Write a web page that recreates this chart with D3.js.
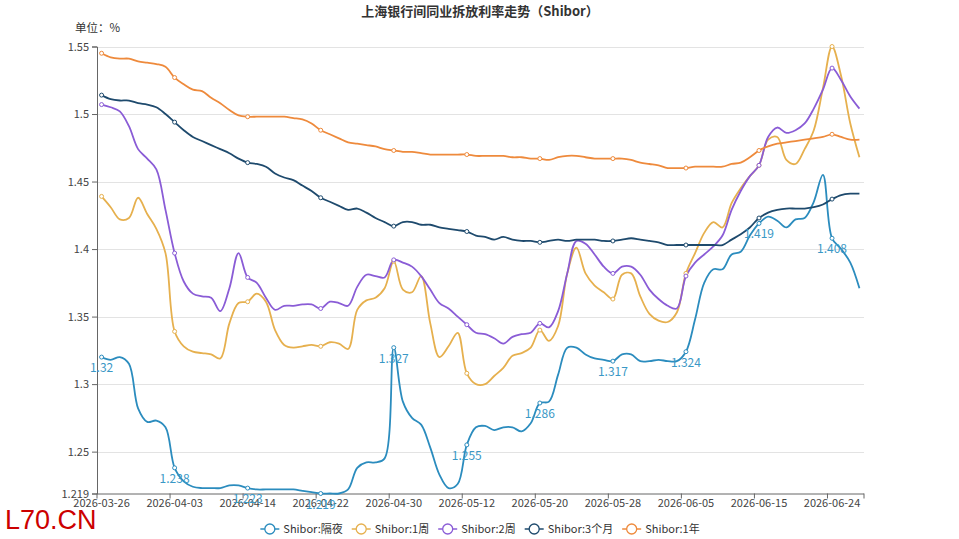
<!DOCTYPE html>
<html>
<head>
<meta charset="utf-8">
<script src="https://cdn.jsdelivr.net/npm/d3@7/dist/d3.min.js"></script>
<style>
  html, body { margin: 0; padding: 0; background: #fff; }
  svg { display: block; }
  text { font-family: "Microsoft YaHei", "Noto Sans CJK SC", "Noto Sans", sans-serif; }
</style>
</head>
<body>
<svg id="chart" width="959" height="539"></svg>
<script>
// ---------- data ----------
const dates = [
  "2026-03-26","2026-03-27","2026-03-28","2026-03-29","2026-03-30","2026-03-31","2026-04-01","2026-04-02",
  "2026-04-03","2026-04-06","2026-04-07","2026-04-08","2026-04-09","2026-04-10","2026-04-11","2026-04-13",
  "2026-04-14","2026-04-15","2026-04-16","2026-04-17","2026-04-18","2026-04-19","2026-04-20","2026-04-21",
  "2026-04-22","2026-04-23","2026-04-24","2026-04-25","2026-04-26","2026-04-27","2026-04-28","2026-04-29",
  "2026-04-30","2026-05-04","2026-05-05","2026-05-06","2026-05-07","2026-05-08","2026-05-09","2026-05-11",
  "2026-05-12","2026-05-13","2026-05-14","2026-05-15","2026-05-16","2026-05-17","2026-05-18","2026-05-19",
  "2026-05-20","2026-05-21","2026-05-22","2026-05-23","2026-05-24","2026-05-25","2026-05-26","2026-05-27",
  "2026-05-28","2026-05-29","2026-05-30","2026-05-31","2026-06-01","2026-06-02","2026-06-03","2026-06-04",
  "2026-06-05","2026-06-06","2026-06-08","2026-06-09","2026-06-10","2026-06-11","2026-06-12","2026-06-13",
  "2026-06-15","2026-06-16","2026-06-17","2026-06-18","2026-06-19","2026-06-20","2026-06-22","2026-06-23",
  "2026-06-24","2026-06-25","2026-06-26","2026-06-27"
];

const seriesNames = ["Shibor:隔夜", "Shibor:1周", "Shibor:2周", "Shibor:3个月", "Shibor:1年"];

const overnight = [
  1.320,1.318,1.320,1.315,1.282,1.272,1.273,1.268,
  1.238,1.228,1.224,1.223,1.223,1.223,1.225,1.225,
  1.223,1.222,1.222,1.222,1.222,1.222,1.221,1.220,
  1.219,1.219,1.219,1.222,1.238,1.242,1.242,1.245,
  1.327,1.287,1.275,1.270,1.253,1.233,1.223,1.226,
  1.255,1.268,1.269,1.266,1.268,1.268,1.265,1.271,
  1.286,1.287,1.307,1.327,1.327,1.322,1.319,1.318,
  1.317,1.322,1.322,1.317,1.317,1.318,1.317,1.317,
  1.324,1.348,1.375,1.385,1.385,1.396,1.398,1.410,
  1.419,1.424,1.421,1.416,1.422,1.423,1.435,1.455,
  1.408,1.400,1.390,1.371
];
const week1 = [
  1.439,1.431,1.422,1.423,1.438,1.426,1.415,1.397,
  1.339,1.328,1.324,1.323,1.322,1.319,1.345,1.360,
  1.361,1.367,1.361,1.340,1.329,1.327,1.328,1.329,
  1.328,1.331,1.330,1.326,1.355,1.362,1.364,1.371,
  1.391,1.370,1.368,1.380,1.345,1.320,1.328,1.338,
  1.308,1.300,1.300,1.306,1.312,1.321,1.323,1.327,
  1.340,1.332,1.343,1.382,1.401,1.382,1.373,1.368,
  1.363,1.381,1.382,1.365,1.352,1.347,1.346,1.353,
  1.382,1.397,1.412,1.420,1.416,1.434,1.445,1.454,
  1.462,1.481,1.483,1.466,1.463,1.474,1.488,1.519,
  1.550,1.528,1.493,1.468
];
const week2 = [
  1.507,1.505,1.502,1.491,1.474,1.467,1.459,1.429,
  1.397,1.376,1.367,1.365,1.364,1.354,1.371,1.397,
  1.379,1.375,1.364,1.355,1.358,1.358,1.359,1.359,
  1.356,1.361,1.360,1.358,1.372,1.381,1.380,1.379,
  1.392,1.390,1.387,1.380,1.370,1.360,1.356,1.350,
  1.344,1.338,1.337,1.334,1.330,1.335,1.337,1.338,
  1.345,1.342,1.354,1.382,1.406,1.404,1.396,1.387,
  1.382,1.387,1.387,1.381,1.370,1.363,1.358,1.356,
  1.380,1.390,1.396,1.402,1.410,1.429,1.443,1.454,
  1.462,1.483,1.490,1.486,1.488,1.493,1.504,1.518,
  1.534,1.525,1.513,1.504
];
const month3 = [
  1.514,1.511,1.510,1.510,1.508,1.507,1.505,1.500,
  1.494,1.488,1.483,1.480,1.477,1.474,1.471,1.467,
  1.464,1.463,1.461,1.456,1.453,1.451,1.447,1.443,
  1.438,1.435,1.432,1.429,1.430,1.427,1.423,1.420,
  1.417,1.420,1.420,1.418,1.418,1.416,1.415,1.414,
  1.413,1.410,1.409,1.407,1.409,1.407,1.406,1.406,
  1.405,1.406,1.407,1.406,1.407,1.407,1.407,1.406,
  1.406,1.407,1.408,1.407,1.406,1.405,1.403,1.403,
  1.403,1.403,1.403,1.403,1.403,1.407,1.411,1.416,
  1.423,1.427,1.429,1.430,1.430,1.430,1.431,1.433,
  1.437,1.440,1.441,1.441
];
const year1 = [
  1.545,1.542,1.541,1.541,1.539,1.538,1.537,1.535,
  1.527,1.522,1.518,1.517,1.512,1.508,1.503,1.499,
  1.498,1.498,1.498,1.498,1.498,1.497,1.496,1.493,
  1.488,1.485,1.482,1.479,1.478,1.477,1.476,1.474,
  1.473,1.472,1.472,1.471,1.470,1.470,1.470,1.470,
  1.470,1.469,1.469,1.469,1.469,1.468,1.468,1.467,
  1.467,1.466,1.468,1.469,1.469,1.468,1.467,1.467,
  1.467,1.467,1.466,1.464,1.463,1.462,1.460,1.460,
  1.460,1.461,1.461,1.461,1.461,1.463,1.464,1.468,
  1.473,1.476,1.478,1.479,1.480,1.481,1.482,1.483,
  1.485,1.483,1.481,1.481
];

const yTicks = [1.219, 1.25, 1.3, 1.35, 1.4, 1.45, 1.5, 1.55];
const colors = ["#2b8cbe", "#e6b04e", "#8a5cd6", "#1e4a6d", "#ee8a3c"];

(function () {
// ---------- layout ----------
const svg = d3.select("#chart");
const pLeft = 97, pRight = 864, pTop = 46.5, pBottom = 493.5;
const idx = d3.range(dates.length);
const x = d3.scaleBand().domain(idx).range([pLeft, pRight]).padding(0);
const bw = x.bandwidth();
const cx = i => x(i) + bw / 2;
const y = d3.scaleLinear().domain([yTicks[0], yTicks[yTicks.length - 1]]).range([pBottom, pTop]);
const labelIdx = idx.filter(i => i % 8 === 0);
const tickFont = '"Microsoft YaHei","Noto Sans CJK SC",sans-serif';

// title
svg.append("text").attr("x", 480).attr("y", 16).attr("text-anchor", "middle")
  .attr("font-size", 13).attr("font-weight", "bold").attr("fill", "#333")
  .text("上海银行间同业拆放利率走势（Shibor）");
svg.append("text").attr("x", 75).attr("y", 32).attr("font-size", 11.5).attr("fill", "#333")
  .text("单位：%");

// grid
svg.append("g").selectAll("line").data(yTicks.slice(1)).join("line")
  .attr("x1", pLeft).attr("x2", pRight)
  .attr("y1", d => Math.round(y(d)) + 0.5).attr("y2", d => Math.round(y(d)) + 0.5)
  .attr("stroke", "#e3e3e3").attr("stroke-width", 1);

// y axis
const yAxis = d3.axisLeft(y).tickValues(yTicks).tickSize(5).tickPadding(3)
  .tickFormat(d => String(+d.toFixed(3)));
const gy = svg.append("g").attr("transform", `translate(${pLeft},0)`).call(yAxis);
gy.select(".domain").attr("stroke", "#666");
gy.selectAll(".tick line").attr("stroke", "#666");
gy.selectAll(".tick text").attr("font-size", 11).attr("fill", "#444").style("font-family", tickFont);

// x axis
const xAxis = d3.axisBottom(x).tickValues(labelIdx).tickSize(5).tickPadding(1)
  .tickFormat(i => dates[i]);
const gx = svg.append("g").attr("transform", `translate(0,${pBottom})`).call(xAxis);
gx.select(".domain").attr("stroke", "#666").attr("d", `M${pLeft},0.5H${pRight}`);
gx.selectAll(".tick line").attr("stroke", "#666").attr("x1", -bw / 2).attr("x2", -bw / 2);
gx.selectAll(".tick text").attr("font-size", 11).attr("fill", "#444").style("font-family", tickFont);
gx.append("line").attr("x1", pRight).attr("x2", pRight).attr("y1", 0).attr("y2", 5).attr("stroke", "#666");

// lines
const allSeries = [overnight, week1, week2, month3, year1];
const line = d3.line().x((d, i) => cx(i)).y(d => y(d)).curve(d3.curveCatmullRom.alpha(0.5));
const gLines = svg.append("g");
allSeries.forEach((s, k) => {
  gLines.append("path").datum(s).attr("d", line).attr("fill", "none")
    .attr("stroke", colors[k]).attr("stroke-width", 1.8);
});
allSeries.forEach((s, k) => {
  gLines.append("g").selectAll("circle").data(labelIdx).join("circle")
    .attr("cx", i => cx(i)).attr("cy", i => y(s[i])).attr("r", 2)
    .attr("fill", "#fff").attr("stroke", colors[k]).attr("stroke-width", 1);
});
// overnight labels
svg.append("g").selectAll("text").data(labelIdx).join("text")
  .attr("x", i => cx(i)).attr("y", i => y(overnight[i]) + 15)
  .attr("text-anchor", "middle").attr("font-size", 12).attr("fill", "#3a98c6")
  .text(i => String(overnight[i]));

// legend
const lg = svg.append("g");
let lx = 0;
seriesNames.forEach((n, k) => {
  const g = lg.append("g").attr("transform", `translate(${lx},0)`);
  g.append("line").attr("x1", 0).attr("x2", 19).attr("y1", 0).attr("y2", 0)
    .attr("stroke", colors[k]).attr("stroke-width", 1.5);
  g.append("circle").attr("cx", 9.5).attr("cy", 0).attr("r", 5)
    .attr("fill", "#fff").attr("stroke", colors[k]).attr("stroke-width", 1.3);
  const t = g.append("text").attr("x", 23).attr("y", 4).attr("font-size", 11)
    .attr("fill", "#333").text(n);
  lx += 23 + t.node().getComputedTextLength() + 9;
});
const lw = lx - 9;
lg.attr("transform", `translate(${480 - lw / 2},529)`);

// watermark
svg.append("text").attr("x", 5).attr("y", 529).attr("font-size", 27)
  .style("font-family", '"Liberation Sans", Arial, sans-serif')
  .attr("fill", "#cc0000").text("L70.CN");
})();
</script>
</body>
</html>
